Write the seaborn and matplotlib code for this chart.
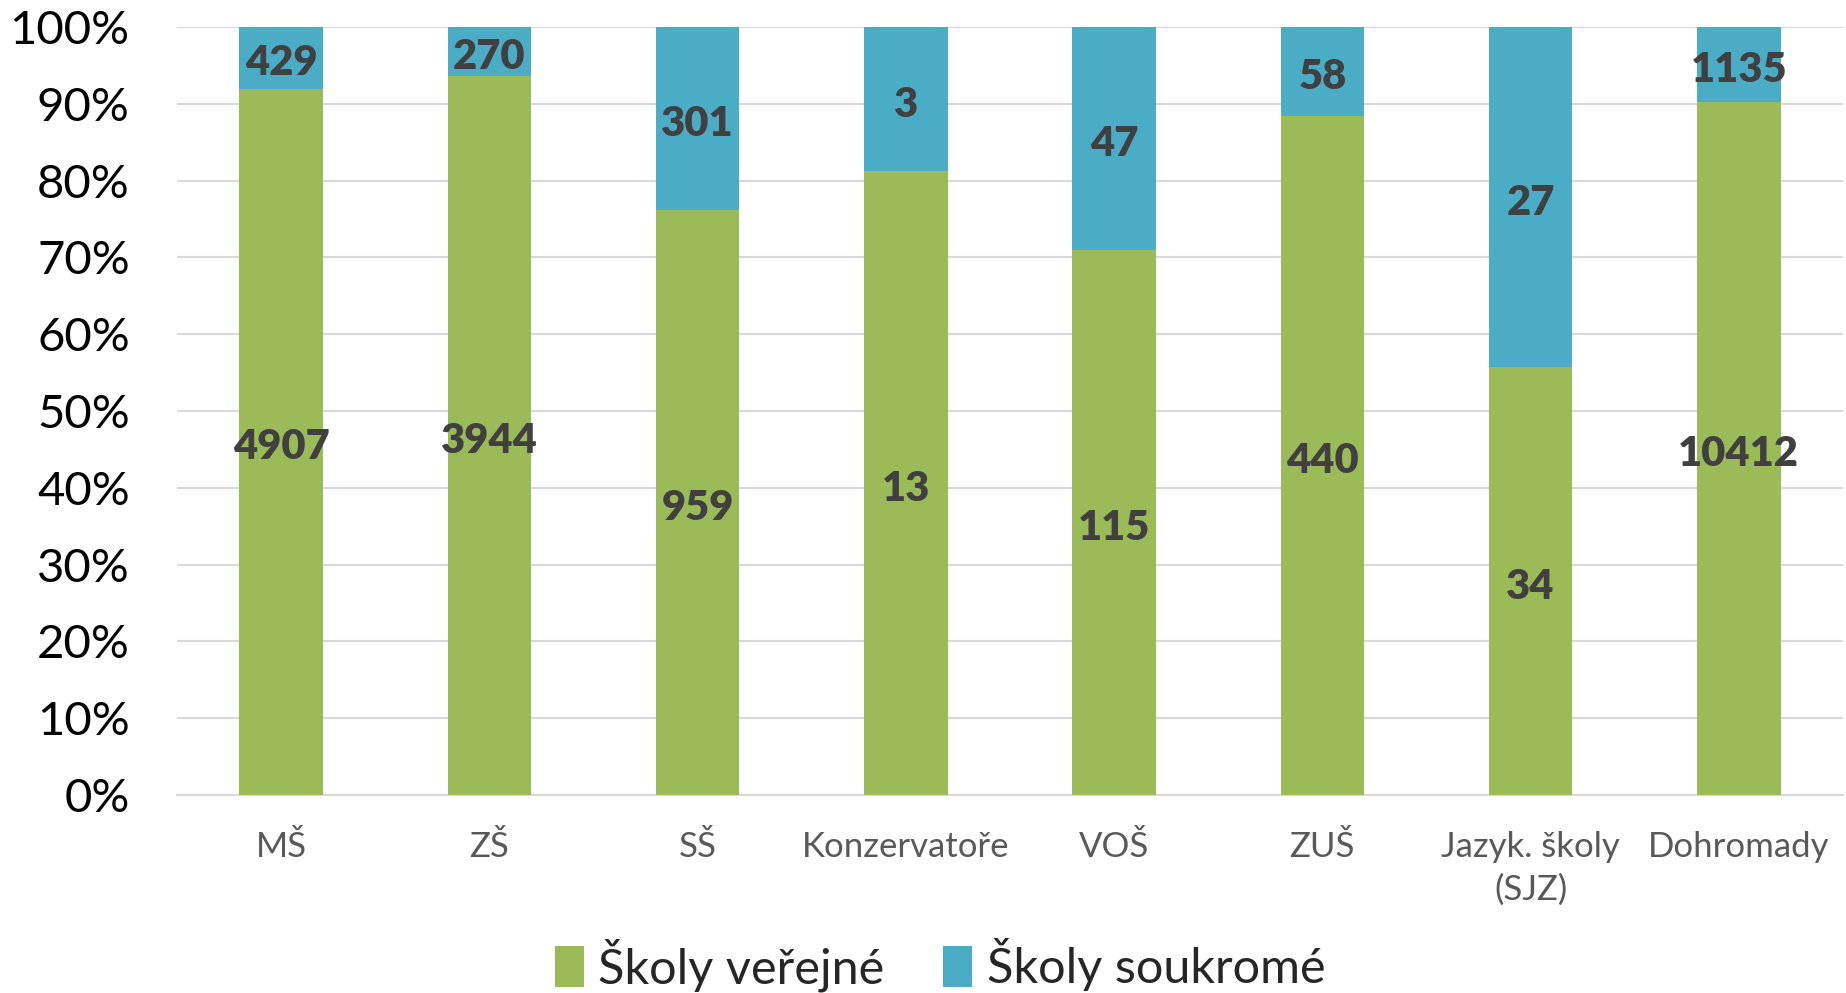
import matplotlib
matplotlib.use("Agg")
import matplotlib.pyplot as plt
import seaborn as sns
import pandas as pd
from matplotlib.patches import Patch

categories = ["MŠ", "ZŠ", "SŠ", "Konzervatoře", "VOŠ", "ZUŠ", "Jazyk. školy\n(SJZ)", "Dohromady"]
verejne = [4907, 3944, 959, 13, 115, 440, 34, 10412]
soukrome = [429, 270, 301, 3, 47, 58, 27, 1135]
series_names = ["Školy veřejné", "Školy soukromé"]
yticks = [0, 10, 20, 30, 40, 50, 60, 70, 80, 90, 100]

GREEN = "#9BBB59"
BLUE = "#4BACC6"

df = pd.DataFrame({"cat": categories, "pub": verejne, "priv": soukrome})
df["total"] = df["pub"] + df["priv"]
df["pub_pct"] = df["pub"] / df["total"] * 100
df["all_pct"] = 100.0

sns.set_theme(style="white")
plt.rcParams["font.family"] = ["Lato", "DejaVu Sans"]

fig = plt.figure(figsize=(18.46, 9.93), dpi=100)
ax = fig.add_axes([177/1846, 1 - 795/993, (1843-177)/1846, (795-27)/993])

sns.barplot(data=df, x="cat", y="all_pct", color=BLUE, width=0.40, ax=ax,
            saturation=1, linewidth=0, zorder=3)
sns.barplot(data=df, x="cat", y="pub_pct", color=GREEN, width=0.40, ax=ax,
            saturation=1, linewidth=0, zorder=3)

for i, r in df.iterrows():
    for val, ypos in [(r["pub"], r["pub_pct"] / 2),
                      (r["priv"], r["pub_pct"] + (100 - r["pub_pct"]) / 2)]:
        ax.annotate(f"{val}", xy=(i, ypos), xytext=(0, -4), textcoords="offset points",
                    ha="center", va="center", fontsize=30, fontweight="heavy",
                    color="#404040", zorder=5)

ax.set_ylim(0, 100)
ax.set_xlim(-0.5, len(categories) - 0.5)
ax.set_yticks(yticks)
ax.set_yticklabels([f"{t}%" for t in yticks], fontsize=34, color="#000000")
ax.tick_params(axis="y", length=0, pad=34)
ax.tick_params(axis="x", length=0, pad=26, labelsize=25, labelcolor="#595959")
for lbl in ax.get_xticklabels():
    lbl.set_linespacing(1.4)
ax.set_xlabel("")
ax.set_ylabel("")
ax.yaxis.grid(True, color="#D9D9D9", linewidth=1.5, zorder=0)
ax.xaxis.grid(False)
for s in ["top", "right", "left"]:
    ax.spines[s].set_visible(False)
ax.spines["bottom"].set_color("#D9D9D9")
ax.spines["bottom"].set_linewidth(1.5)
for lbl in ax.get_yticklabels():
    lbl.set_ha("right")

handles = [Patch(facecolor=GREEN, edgecolor="none"), Patch(facecolor=BLUE, edgecolor="none")]
fig.legend(handles, series_names, loc="center", bbox_to_anchor=(940/1846, 1 - 965/993),
           ncol=2, frameon=False, fontsize=35, handlelength=0.6, handleheight=0.9,
           handletextpad=0.3, columnspacing=1.2)

fig.savefig("out.png", dpi=100)
